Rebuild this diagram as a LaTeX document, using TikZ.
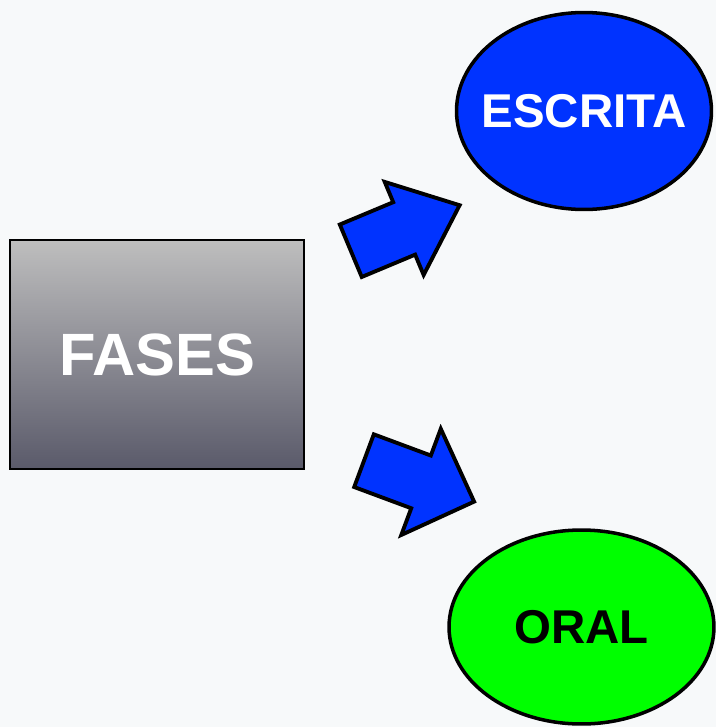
\documentclass[tikz,border=0pt]{standalone}
\usepackage{fontspec}
\setmainfont{Liberation Sans}
\usetikzlibrary{shapes.geometric,shapes.arrows}

\definecolor{bgpaper}{RGB}{247,249,250}
\definecolor{boxtop}{RGB}{190,190,190}
\definecolor{boxbottom}{RGB}{90,90,106}
\definecolor{writeblue}{RGB}{0,51,255}
\definecolor{oralgreen}{RGB}{0,255,0}

\tikzset{
    phasebox/.style={draw=black, line width=1.2pt, top color=boxtop, bottom color=boxbottom,
        minimum width=5.88cm, minimum height=4.58cm, inner sep=0pt,
        text=white, font=\fontsize{34}{36}\selectfont\bfseries},
    phaseoval/.style={ellipse, draw=black, line width=2pt, inner sep=0pt},
    ovaltext/.style={inner sep=0pt, font=\fontsize{27}{30}\selectfont\bfseries},
    blockarrow/.style={single arrow, draw=black, line width=2.2pt, fill=writeblue,
        inner xsep=0pt, single arrow head indent=0pt, anchor=tail}
}

\begin{document}
\begin{tikzpicture}[x=0.02cm, y=-0.02cm]
    % Background
    \fill[bgpaper] (0,0) rectangle (716,727);
    \useasboundingbox (0,0) rectangle (716,727);

    % Main box
    \node[phasebox] (fases) at (157,354.5) {\raisebox{-1.5pt}{FASES}};

    % Phases
    \node[phaseoval, fill=writeblue, minimum width=5.1cm, minimum height=3.94cm,
        label={[ovaltext, text=white]center:ESCRITA}] (escrita) at (584,111) {};
    \node[phaseoval, fill=oralgreen, minimum width=5.3cm, minimum height=3.88cm,
        label={[ovaltext, text=black]center:ORAL}] (oral) at (581.5,627) {};

    % Block arrows
    \node[blockarrow, rotate=22.7, minimum height=2.36cm, inner ysep=0.53cm,
        single arrow head extend=0.44cm, single arrow tip angle=80] (toescrita) at (349,251.5) {};
    \node[blockarrow, rotate=-20.4, minimum height=2.35cm, inner ysep=0.524cm,
        single arrow head extend=0.57cm, single arrow tip angle=90] (tooral) at (362.2,460) {};
\end{tikzpicture}
\end{document}
